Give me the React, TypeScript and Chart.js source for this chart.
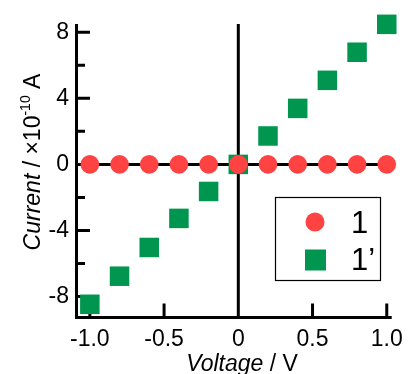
import React, { useEffect, useRef } from 'react';
import { Chart, registerables } from 'chart.js';

Chart.register(...registerables);

const voltages = [-1.0, -0.8, -0.6, -0.4, -0.2, 0, 0.2, 0.4, 0.6, 0.8, 1.0];
const current1 = [0, 0, 0, 0, 0, 0, 0, 0, 0, 0, 0];
const current1p = [-8.47, -6.77, -5.03, -3.27, -1.64, 0, 1.72, 3.39, 5.09, 6.79, 8.48];
const seriesLabels = ['1', '1\u2019'];
const seriesColors = ['#FF4242', '#00964F'];
const xMajorTicks = [-1.0, -0.5, 0, 0.5, 1.0];
const yMajorTicks = [8, 4, 0, -4, -8];
const yMinorTicks = [6, 2, -2, -6];

const FONT = "'Liberation Sans', Arial, Helvetica, sans-serif";

const decorPlugin = {
  id: 'decor',
  beforeDatasetsDraw(chart: any) {
    const ctx = chart.ctx as CanvasRenderingContext2D;
    const { left, right, top, bottom } = chart.chartArea;
    const xs = chart.scales.x;
    const ys = chart.scales.y;
    ctx.save();
    ctx.strokeStyle = '#000';
    ctx.lineWidth = 3;
    ctx.lineCap = 'butt';
    const axX = left + 1.5;
    const axY = bottom - 0.5;
    ctx.beginPath();
    ctx.moveTo(axX, top);
    ctx.lineTo(axX, axY + 1.5);
    ctx.moveTo(left, axY);
    ctx.lineTo(right, axY);
    const x0 = xs.getPixelForValue(0);
    const y0 = ys.getPixelForValue(0);
    ctx.moveTo(x0, top);
    ctx.lineTo(x0, axY);
    ctx.moveTo(left, y0);
    ctx.lineTo(right, y0);
    yMajorTicks.forEach((v) => {
      const p = ys.getPixelForValue(v);
      ctx.moveTo(left, p);
      ctx.lineTo(left + 15, p);
    });
    yMinorTicks.forEach((v) => {
      const p = ys.getPixelForValue(v);
      ctx.moveTo(left, p);
      ctx.lineTo(left + 10, p);
    });
    xMajorTicks.forEach((v) => {
      const p = xs.getPixelForValue(v);
      ctx.moveTo(p, axY);
      ctx.lineTo(p, axY - 14);
    });
    ctx.stroke();
    ctx.restore();
  },
  afterDraw(chart: any) {
    const ctx = chart.ctx as CanvasRenderingContext2D;
    ctx.save();
    ctx.fillStyle = '#000';
    ctx.textBaseline = 'alphabetic';
    ctx.textAlign = 'left';

    // x title
    const fi = `italic 23px ${FONT}`;
    const fn = `23px ${FONT}`;
    ctx.font = fi;
    const wV = ctx.measureText('Voltage').width;
    ctx.font = fn;
    const wR = ctx.measureText(' / V').width;
    const sx = 242 - (wV + wR) / 2;
    ctx.font = fi;
    ctx.fillText('Voltage', sx, 371);
    ctx.font = fn;
    ctx.fillText(' / V', sx + wV, 371);

    // y title (rotated)
    const yi = `italic 23px ${FONT}`;
    const yn = `23px ${FONT}`;
    const ysf = `14px ${FONT}`;
    ctx.font = yi;
    const w1 = ctx.measureText('Current').width;
    ctx.font = yn;
    const w2 = ctx.measureText(' / \u00D710').width;
    ctx.font = ysf;
    const w3 = ctx.measureText('-10').width;
    ctx.font = yn;
    const w4 = ctx.measureText(' A').width;
    const total = w1 + w2 + w3 + w4;
    ctx.translate(40, 162);
    ctx.rotate(-Math.PI / 2);
    let tx = -total / 2;
    ctx.font = yi;
    ctx.fillText('Current', tx, 0);
    tx += w1;
    ctx.font = yn;
    ctx.fillText(' / \u00D710', tx, 0);
    tx += w2;
    ctx.font = ysf;
    ctx.fillText('-10', tx, -10);
    tx += w3;
    ctx.font = yn;
    ctx.fillText(' A', tx, 0);
    ctx.restore();

    // legend
    ctx.save();
    ctx.fillStyle = '#fff';
    ctx.fillRect(275.5, 197.5, 105, 83);
    ctx.strokeStyle = '#000';
    ctx.lineWidth = 1.2;
    ctx.strokeRect(275.5, 197.5, 105, 83);
    ctx.fillStyle = seriesColors[0];
    ctx.beginPath();
    ctx.arc(315, 222, 9.5, 0, Math.PI * 2);
    ctx.fill();
    ctx.fillStyle = seriesColors[1];
    ctx.fillRect(305, 249.5, 21, 21);
    ctx.fillStyle = '#000';
    ctx.font = `31px ${FONT}`;
    ctx.textBaseline = 'alphabetic';
    ctx.fillText(seriesLabels[0], 351, 233);
    ctx.fillText(seriesLabels[1], 351, 270);
    ctx.restore();
  },
};

export default function App() {
  const ref = useRef<HTMLCanvasElement>(null);
  useEffect(() => {
    document.body.style.margin = '0';
    const canvas = ref.current!;
    const chart = new Chart(canvas, {
      type: 'scatter',
      data: {
        datasets: [
          {
            label: seriesLabels[0],
            data: voltages.map((v, i) => ({ x: v, y: current1[i] })),
            backgroundColor: seriesColors[0],
            borderWidth: 0,
            pointStyle: 'circle',
            pointRadius: 9.3,
            pointHoverRadius: 9.3,
          },
          {
            label: seriesLabels[1],
            data: voltages.map((v, i) => ({ x: v, y: current1p[i] })),
            backgroundColor: seriesColors[1],
            borderWidth: 0,
            pointStyle: 'rect',
            pointRadius: 13.8,
            pointHoverRadius: 13.8,
          },
        ],
      },
      options: {
        animation: false,
        responsive: false,
        events: [],
        clip: false as any,
        layout: { padding: { left: 0, right: 16, top: 24, bottom: 0 } },
        plugins: {
          legend: { display: false },
          tooltip: { enabled: false },
        },
        scales: {
          x: {
            type: 'linear',
            min: -1.1,
            max: 1.0333,
            grid: { display: false, drawTicks: false },
            border: { display: false },
            afterBuildTicks: (s: any) => {
              s.ticks = xMajorTicks.map((v) => ({ value: v }));
            },
            afterFit: (s: any) => {
              s.height = 56;
            },
            ticks: {
              autoSkip: false,
              maxRotation: 0,
              padding: 8,
              color: '#000',
              font: { family: FONT, size: 23 },
              callback: (v: any) => (Number(v) === 0 ? '0' : Number(v).toFixed(1)),
            },
          },
          y: {
            type: 'linear',
            min: -9.3,
            max: 8.5,
            grid: { display: false, drawTicks: false },
            border: { display: false },
            afterBuildTicks: (s: any) => {
              s.ticks = yMajorTicks.map((v) => ({ value: v }));
            },
            afterFit: (s: any) => {
              s.width = 75;
            },
            ticks: {
              autoSkip: false,
              padding: 6,
              color: '#000',
              font: { family: FONT, size: 23 },
              callback: (v: any) => String(v),
            },
          },
        },
      },
      plugins: [decorPlugin],
    });
    return () => chart.destroy();
  }, []);
  return <canvas ref={ref} width={411} height={374} style={{ display: 'block' }} />;
}
